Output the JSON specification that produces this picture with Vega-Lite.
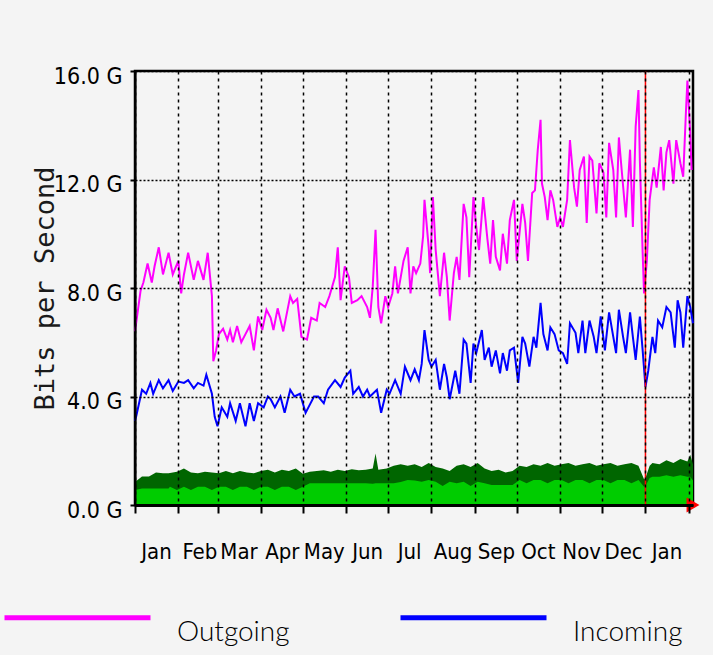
{
  "$schema": "https://vega.github.io/schema/vega-lite/v6.json",
  "width": 558,
  "height": 434,
  "autosize": {"type": "none"},
  "padding": {"left": 135, "top": 71, "right": 20, "bottom": 150},
  "background": "#f4f4f4",
  "config": {
    "view": {"stroke": "#000000", "strokeWidth": 2.5, "fill": "#f4f4f4"}
  },
  "datasets": {
    "traffic": [
      {"date":"2007-01-01","series":"Outgoing","gbps":6.4},{"date":"2007-01-05","series":"Outgoing","gbps":7.9},{"date":"2007-01-07","series":"Outgoing","gbps":8.2},{"date":"2007-01-10","series":"Outgoing","gbps":8.9},{"date":"2007-01-13","series":"Outgoing","gbps":8.2},{"date":"2007-01-15","series":"Outgoing","gbps":8.8},{"date":"2007-01-18","series":"Outgoing","gbps":9.5},{"date":"2007-01-21","series":"Outgoing","gbps":8.5},{"date":"2007-01-25","series":"Outgoing","gbps":9.3},{"date":"2007-01-28","series":"Outgoing","gbps":8.5},
      {"date":"2007-02-01","series":"Outgoing","gbps":9.0},{"date":"2007-02-03","series":"Outgoing","gbps":7.8},{"date":"2007-02-05","series":"Outgoing","gbps":8.5},{"date":"2007-02-08","series":"Outgoing","gbps":9.3},{"date":"2007-02-12","series":"Outgoing","gbps":8.3},{"date":"2007-02-15","series":"Outgoing","gbps":9.0},{"date":"2007-02-19","series":"Outgoing","gbps":8.3},{"date":"2007-02-22","series":"Outgoing","gbps":9.3},{"date":"2007-02-25","series":"Outgoing","gbps":7.7},{"date":"2007-02-26","series":"Outgoing","gbps":5.3},{"date":"2007-02-28","series":"Outgoing","gbps":5.7},
      {"date":"2007-03-02","series":"Outgoing","gbps":6.3},{"date":"2007-03-05","series":"Outgoing","gbps":6.5},{"date":"2007-03-08","series":"Outgoing","gbps":6.1},{"date":"2007-03-10","series":"Outgoing","gbps":6.45},{"date":"2007-03-12","series":"Outgoing","gbps":6.0},{"date":"2007-03-15","series":"Outgoing","gbps":6.6},{"date":"2007-03-18","series":"Outgoing","gbps":6.0},{"date":"2007-03-21","series":"Outgoing","gbps":6.3},{"date":"2007-03-24","series":"Outgoing","gbps":6.6},{"date":"2007-03-27","series":"Outgoing","gbps":5.7},{"date":"2007-03-30","series":"Outgoing","gbps":6.95},
      {"date":"2007-04-02","series":"Outgoing","gbps":6.45},{"date":"2007-04-05","series":"Outgoing","gbps":7.2},{"date":"2007-04-08","series":"Outgoing","gbps":6.9},{"date":"2007-04-10","series":"Outgoing","gbps":6.45},{"date":"2007-04-13","series":"Outgoing","gbps":7.25},{"date":"2007-04-17","series":"Outgoing","gbps":6.4},{"date":"2007-04-22","series":"Outgoing","gbps":7.7},{"date":"2007-04-24","series":"Outgoing","gbps":7.45},{"date":"2007-04-27","series":"Outgoing","gbps":7.6},{"date":"2007-04-30","series":"Outgoing","gbps":6.2},
      {"date":"2007-05-04","series":"Outgoing","gbps":6.1},{"date":"2007-05-07","series":"Outgoing","gbps":6.9},{"date":"2007-05-11","series":"Outgoing","gbps":6.8},{"date":"2007-05-13","series":"Outgoing","gbps":7.45},{"date":"2007-05-17","series":"Outgoing","gbps":7.3},{"date":"2007-05-20","series":"Outgoing","gbps":7.7},{"date":"2007-05-24","series":"Outgoing","gbps":8.4},{"date":"2007-05-26","series":"Outgoing","gbps":9.5},{"date":"2007-05-28","series":"Outgoing","gbps":7.55},{"date":"2007-05-31","series":"Outgoing","gbps":8.8},
      {"date":"2007-06-03","series":"Outgoing","gbps":8.4},{"date":"2007-06-05","series":"Outgoing","gbps":7.45},{"date":"2007-06-09","series":"Outgoing","gbps":7.55},{"date":"2007-06-12","series":"Outgoing","gbps":7.7},{"date":"2007-06-16","series":"Outgoing","gbps":7.3},{"date":"2007-06-18","series":"Outgoing","gbps":6.9},{"date":"2007-06-20","series":"Outgoing","gbps":8.05},{"date":"2007-06-22","series":"Outgoing","gbps":10.15},{"date":"2007-06-24","series":"Outgoing","gbps":7.3},{"date":"2007-06-26","series":"Outgoing","gbps":6.7},{"date":"2007-06-29","series":"Outgoing","gbps":7.7},
      {"date":"2007-07-01","series":"Outgoing","gbps":7.3},{"date":"2007-07-04","series":"Outgoing","gbps":7.8},{"date":"2007-07-06","series":"Outgoing","gbps":8.8},{"date":"2007-07-08","series":"Outgoing","gbps":7.8},{"date":"2007-07-12","series":"Outgoing","gbps":9.0},{"date":"2007-07-15","series":"Outgoing","gbps":9.5},{"date":"2007-07-17","series":"Outgoing","gbps":7.8},{"date":"2007-07-19","series":"Outgoing","gbps":8.8},{"date":"2007-07-21","series":"Outgoing","gbps":8.55},{"date":"2007-07-24","series":"Outgoing","gbps":8.9},{"date":"2007-07-26","series":"Outgoing","gbps":9.9},{"date":"2007-07-27","series":"Outgoing","gbps":11.25},{"date":"2007-07-30","series":"Outgoing","gbps":9.5},{"date":"2007-07-31","series":"Outgoing","gbps":8.55},
      {"date":"2007-08-02","series":"Outgoing","gbps":11.35},{"date":"2007-08-04","series":"Outgoing","gbps":9.4},{"date":"2007-08-07","series":"Outgoing","gbps":7.7},{"date":"2007-08-10","series":"Outgoing","gbps":9.3},{"date":"2007-08-12","series":"Outgoing","gbps":8.4},{"date":"2007-08-14","series":"Outgoing","gbps":6.8},{"date":"2007-08-17","series":"Outgoing","gbps":8.55},{"date":"2007-08-19","series":"Outgoing","gbps":9.15},{"date":"2007-08-21","series":"Outgoing","gbps":8.3},{"date":"2007-08-24","series":"Outgoing","gbps":11.1},{"date":"2007-08-26","series":"Outgoing","gbps":10.6},{"date":"2007-08-28","series":"Outgoing","gbps":8.4},{"date":"2007-08-31","series":"Outgoing","gbps":11.35},
      {"date":"2007-09-02","series":"Outgoing","gbps":10.25},{"date":"2007-09-04","series":"Outgoing","gbps":9.4},{"date":"2007-09-07","series":"Outgoing","gbps":11.35},{"date":"2007-09-10","series":"Outgoing","gbps":9.8},{"date":"2007-09-12","series":"Outgoing","gbps":8.9},{"date":"2007-09-14","series":"Outgoing","gbps":10.5},{"date":"2007-09-16","series":"Outgoing","gbps":9.15},{"date":"2007-09-19","series":"Outgoing","gbps":8.65},{"date":"2007-09-21","series":"Outgoing","gbps":10.0},{"date":"2007-09-24","series":"Outgoing","gbps":8.9},{"date":"2007-09-26","series":"Outgoing","gbps":10.5},{"date":"2007-09-29","series":"Outgoing","gbps":11.25},
      {"date":"2007-10-01","series":"Outgoing","gbps":9.0},{"date":"2007-10-05","series":"Outgoing","gbps":11.1},{"date":"2007-10-07","series":"Outgoing","gbps":10.4},{"date":"2007-10-09","series":"Outgoing","gbps":9.0},{"date":"2007-10-12","series":"Outgoing","gbps":11.5},{"date":"2007-10-14","series":"Outgoing","gbps":11.6},{"date":"2007-10-16","series":"Outgoing","gbps":13.1},{"date":"2007-10-18","series":"Outgoing","gbps":14.2},{"date":"2007-10-19","series":"Outgoing","gbps":11.85},{"date":"2007-10-21","series":"Outgoing","gbps":11.35},{"date":"2007-10-23","series":"Outgoing","gbps":10.5},{"date":"2007-10-25","series":"Outgoing","gbps":11.6},{"date":"2007-10-27","series":"Outgoing","gbps":11.25},{"date":"2007-10-30","series":"Outgoing","gbps":10.25},
      {"date":"2007-11-01","series":"Outgoing","gbps":10.6},{"date":"2007-11-03","series":"Outgoing","gbps":10.25},{"date":"2007-11-06","series":"Outgoing","gbps":11.25},{"date":"2007-11-08","series":"Outgoing","gbps":13.45},{"date":"2007-11-11","series":"Outgoing","gbps":11.7},{"date":"2007-11-13","series":"Outgoing","gbps":11.0},{"date":"2007-11-15","series":"Outgoing","gbps":12.35},{"date":"2007-11-18","series":"Outgoing","gbps":12.85},{"date":"2007-11-20","series":"Outgoing","gbps":10.4},{"date":"2007-11-22","series":"Outgoing","gbps":12.85},{"date":"2007-11-24","series":"Outgoing","gbps":12.7},{"date":"2007-11-27","series":"Outgoing","gbps":10.75},{"date":"2007-11-29","series":"Outgoing","gbps":12.6},
      {"date":"2007-12-02","series":"Outgoing","gbps":12.25},{"date":"2007-12-04","series":"Outgoing","gbps":10.6},{"date":"2007-12-06","series":"Outgoing","gbps":13.35},{"date":"2007-12-09","series":"Outgoing","gbps":12.35},{"date":"2007-12-11","series":"Outgoing","gbps":10.6},{"date":"2007-12-13","series":"Outgoing","gbps":13.55},{"date":"2007-12-15","series":"Outgoing","gbps":12.35},{"date":"2007-12-18","series":"Outgoing","gbps":10.6},{"date":"2007-12-21","series":"Outgoing","gbps":13.1},{"date":"2007-12-23","series":"Outgoing","gbps":10.25},{"date":"2007-12-25","series":"Outgoing","gbps":13.95},{"date":"2007-12-27","series":"Outgoing","gbps":15.3},{"date":"2007-12-28","series":"Outgoing","gbps":12.7},{"date":"2007-12-30","series":"Outgoing","gbps":9.3},{"date":"2007-12-31","series":"Outgoing","gbps":7.8},
      {"date":"2008-01-02","series":"Outgoing","gbps":9.0},{"date":"2008-01-04","series":"Outgoing","gbps":11.25},{"date":"2008-01-07","series":"Outgoing","gbps":12.45},{"date":"2008-01-09","series":"Outgoing","gbps":11.7},{"date":"2008-01-12","series":"Outgoing","gbps":13.2},{"date":"2008-01-14","series":"Outgoing","gbps":11.6},{"date":"2008-01-16","series":"Outgoing","gbps":13.0},{"date":"2008-01-18","series":"Outgoing","gbps":13.45},{"date":"2008-01-21","series":"Outgoing","gbps":11.85},{"date":"2008-01-23","series":"Outgoing","gbps":13.45},{"date":"2008-01-26","series":"Outgoing","gbps":12.6},{"date":"2008-01-28","series":"Outgoing","gbps":12.1},{"date":"2008-01-30","series":"Outgoing","gbps":14.55},{"date":"2008-01-31","series":"Outgoing","gbps":15.65},{"date":"2008-02-02","series":"Outgoing","gbps":13.7},{"date":"2008-02-03","series":"Outgoing","gbps":12.35},

      {"date":"2007-01-01","series":"Incoming","gbps":3.1},{"date":"2007-01-02","series":"Incoming","gbps":3.3},{"date":"2007-01-06","series":"Incoming","gbps":4.25},{"date":"2007-01-09","series":"Incoming","gbps":4.1},{"date":"2007-01-12","series":"Incoming","gbps":4.5},{"date":"2007-01-14","series":"Incoming","gbps":4.1},{"date":"2007-01-18","series":"Incoming","gbps":4.6},{"date":"2007-01-21","series":"Incoming","gbps":4.3},{"date":"2007-01-25","series":"Incoming","gbps":4.6},{"date":"2007-01-28","series":"Incoming","gbps":4.2},
      {"date":"2007-02-01","series":"Incoming","gbps":4.55},{"date":"2007-02-05","series":"Incoming","gbps":4.5},{"date":"2007-02-08","series":"Incoming","gbps":4.6},{"date":"2007-02-12","series":"Incoming","gbps":4.3},{"date":"2007-02-15","series":"Incoming","gbps":4.5},{"date":"2007-02-19","series":"Incoming","gbps":4.4},{"date":"2007-02-21","series":"Incoming","gbps":4.8},{"date":"2007-02-25","series":"Incoming","gbps":4.1},{"date":"2007-02-27","series":"Incoming","gbps":3.25},
      {"date":"2007-03-01","series":"Incoming","gbps":2.9},{"date":"2007-03-04","series":"Incoming","gbps":3.6},{"date":"2007-03-08","series":"Incoming","gbps":3.25},{"date":"2007-03-10","series":"Incoming","gbps":3.75},{"date":"2007-03-14","series":"Incoming","gbps":3.1},{"date":"2007-03-17","series":"Incoming","gbps":3.75},{"date":"2007-03-21","series":"Incoming","gbps":2.9},{"date":"2007-03-24","series":"Incoming","gbps":3.75},{"date":"2007-03-27","series":"Incoming","gbps":3.1},{"date":"2007-03-30","series":"Incoming","gbps":3.75},
      {"date":"2007-04-03","series":"Incoming","gbps":3.6},{"date":"2007-04-06","series":"Incoming","gbps":4.0},{"date":"2007-04-08","series":"Incoming","gbps":3.9},{"date":"2007-04-11","series":"Incoming","gbps":3.6},{"date":"2007-04-15","series":"Incoming","gbps":4.0},{"date":"2007-04-18","series":"Incoming","gbps":3.4},{"date":"2007-04-22","series":"Incoming","gbps":4.25},{"date":"2007-04-25","series":"Incoming","gbps":4.0},{"date":"2007-04-29","series":"Incoming","gbps":4.1},
      {"date":"2007-05-03","series":"Incoming","gbps":3.4},{"date":"2007-05-05","series":"Incoming","gbps":3.6},{"date":"2007-05-09","series":"Incoming","gbps":4.0},{"date":"2007-05-12","series":"Incoming","gbps":4.0},{"date":"2007-05-16","series":"Incoming","gbps":3.75},{"date":"2007-05-19","series":"Incoming","gbps":4.25},{"date":"2007-05-24","series":"Incoming","gbps":4.6},{"date":"2007-05-28","series":"Incoming","gbps":4.35},{"date":"2007-05-31","series":"Incoming","gbps":4.7},
      {"date":"2007-06-04","series":"Incoming","gbps":4.95},{"date":"2007-06-06","series":"Incoming","gbps":4.1},{"date":"2007-06-10","series":"Incoming","gbps":4.35},{"date":"2007-06-13","series":"Incoming","gbps":4.0},{"date":"2007-06-16","series":"Incoming","gbps":4.25},{"date":"2007-06-18","series":"Incoming","gbps":4.0},{"date":"2007-06-23","series":"Incoming","gbps":4.25},{"date":"2007-06-26","series":"Incoming","gbps":3.4},{"date":"2007-06-30","series":"Incoming","gbps":4.25},
      {"date":"2007-07-02","series":"Incoming","gbps":4.1},{"date":"2007-07-06","series":"Incoming","gbps":4.6},{"date":"2007-07-10","series":"Incoming","gbps":4.1},{"date":"2007-07-13","series":"Incoming","gbps":5.1},{"date":"2007-07-17","series":"Incoming","gbps":4.6},{"date":"2007-07-20","series":"Incoming","gbps":5.0},{"date":"2007-07-23","series":"Incoming","gbps":4.6},{"date":"2007-07-25","series":"Incoming","gbps":5.2},{"date":"2007-07-27","series":"Incoming","gbps":6.45},{"date":"2007-07-30","series":"Incoming","gbps":5.35},
      {"date":"2007-08-01","series":"Incoming","gbps":5.1},{"date":"2007-08-04","series":"Incoming","gbps":5.35},{"date":"2007-08-07","series":"Incoming","gbps":4.25},{"date":"2007-08-10","series":"Incoming","gbps":5.2},{"date":"2007-08-12","series":"Incoming","gbps":4.7},{"date":"2007-08-14","series":"Incoming","gbps":3.9},{"date":"2007-08-18","series":"Incoming","gbps":4.95},{"date":"2007-08-21","series":"Incoming","gbps":4.1},{"date":"2007-08-24","series":"Incoming","gbps":6.1},{"date":"2007-08-26","series":"Incoming","gbps":5.95},{"date":"2007-08-29","series":"Incoming","gbps":4.5},{"date":"2007-08-31","series":"Incoming","gbps":5.95},
      {"date":"2007-09-02","series":"Incoming","gbps":5.6},{"date":"2007-09-06","series":"Incoming","gbps":6.45},{"date":"2007-09-08","series":"Incoming","gbps":5.35},{"date":"2007-09-11","series":"Incoming","gbps":5.8},{"date":"2007-09-13","series":"Incoming","gbps":5.1},{"date":"2007-09-16","series":"Incoming","gbps":5.7},{"date":"2007-09-19","series":"Incoming","gbps":4.85},{"date":"2007-09-21","series":"Incoming","gbps":5.6},{"date":"2007-09-24","series":"Incoming","gbps":4.95},{"date":"2007-09-26","series":"Incoming","gbps":5.7},{"date":"2007-09-29","series":"Incoming","gbps":5.8},
      {"date":"2007-10-02","series":"Incoming","gbps":4.5},{"date":"2007-10-05","series":"Incoming","gbps":6.2},{"date":"2007-10-07","series":"Incoming","gbps":5.95},{"date":"2007-10-10","series":"Incoming","gbps":5.1},{"date":"2007-10-13","series":"Incoming","gbps":6.2},{"date":"2007-10-15","series":"Incoming","gbps":5.8},{"date":"2007-10-18","series":"Incoming","gbps":7.45},{"date":"2007-10-20","series":"Incoming","gbps":6.3},{"date":"2007-10-23","series":"Incoming","gbps":5.7},{"date":"2007-10-25","series":"Incoming","gbps":6.55},{"date":"2007-10-28","series":"Incoming","gbps":6.3},{"date":"2007-10-31","series":"Incoming","gbps":5.7},
      {"date":"2007-11-03","series":"Incoming","gbps":5.6},{"date":"2007-11-06","series":"Incoming","gbps":5.2},{"date":"2007-11-08","series":"Incoming","gbps":6.7},{"date":"2007-11-12","series":"Incoming","gbps":6.35},{"date":"2007-11-14","series":"Incoming","gbps":5.6},{"date":"2007-11-17","series":"Incoming","gbps":6.8},{"date":"2007-11-19","series":"Incoming","gbps":5.6},{"date":"2007-11-22","series":"Incoming","gbps":6.8},{"date":"2007-11-25","series":"Incoming","gbps":6.2},{"date":"2007-11-27","series":"Incoming","gbps":5.6},{"date":"2007-11-30","series":"Incoming","gbps":6.95},
      {"date":"2007-12-03","series":"Incoming","gbps":5.7},{"date":"2007-12-06","series":"Incoming","gbps":7.1},{"date":"2007-12-09","series":"Incoming","gbps":6.2},{"date":"2007-12-11","series":"Incoming","gbps":5.6},{"date":"2007-12-13","series":"Incoming","gbps":7.2},{"date":"2007-12-16","series":"Incoming","gbps":6.2},{"date":"2007-12-18","series":"Incoming","gbps":5.6},{"date":"2007-12-21","series":"Incoming","gbps":7.1},{"date":"2007-12-23","series":"Incoming","gbps":6.2},{"date":"2007-12-25","series":"Incoming","gbps":5.35},{"date":"2007-12-28","series":"Incoming","gbps":6.95},{"date":"2007-12-30","series":"Incoming","gbps":5.7},
      {"date":"2008-01-01","series":"Incoming","gbps":4.35},{"date":"2008-01-03","series":"Incoming","gbps":4.95},{"date":"2008-01-06","series":"Incoming","gbps":6.2},{"date":"2008-01-08","series":"Incoming","gbps":5.6},{"date":"2008-01-10","series":"Incoming","gbps":6.8},{"date":"2008-01-13","series":"Incoming","gbps":6.55},{"date":"2008-01-16","series":"Incoming","gbps":7.3},{"date":"2008-01-19","series":"Incoming","gbps":7.1},{"date":"2008-01-22","series":"Incoming","gbps":5.8},{"date":"2008-01-24","series":"Incoming","gbps":7.55},{"date":"2008-01-26","series":"Incoming","gbps":7.1},{"date":"2008-01-28","series":"Incoming","gbps":5.8},{"date":"2008-01-31","series":"Incoming","gbps":7.7},{"date":"2008-02-02","series":"Incoming","gbps":7.3},{"date":"2008-02-04","series":"Incoming","gbps":6.7}
    ],
    "peak": [
      {"date":"2007-01-01","gbps":0.85},{"date":"2007-01-06","gbps":1.05},{"date":"2007-01-11","gbps":1.05},{"date":"2007-01-16","gbps":1.2},{"date":"2007-01-21","gbps":1.17},{"date":"2007-01-25","gbps":1.17},{"date":"2007-01-31","gbps":1.23},
      {"date":"2007-02-05","gbps":1.35},{"date":"2007-02-10","gbps":1.2},{"date":"2007-02-15","gbps":1.17},{"date":"2007-02-20","gbps":1.23},{"date":"2007-02-25","gbps":1.2},
      {"date":"2007-03-02","gbps":1.17},{"date":"2007-03-07","gbps":1.25},{"date":"2007-03-12","gbps":1.17},{"date":"2007-03-17","gbps":1.25},{"date":"2007-03-22","gbps":1.2},{"date":"2007-03-27","gbps":1.17},
      {"date":"2007-04-01","gbps":1.25},{"date":"2007-04-06","gbps":1.3},{"date":"2007-04-11","gbps":1.2},{"date":"2007-04-16","gbps":1.3},{"date":"2007-04-21","gbps":1.25},{"date":"2007-04-26","gbps":1.35},
      {"date":"2007-05-01","gbps":1.15},{"date":"2007-05-06","gbps":1.23},{"date":"2007-05-11","gbps":1.25},{"date":"2007-05-16","gbps":1.28},{"date":"2007-05-21","gbps":1.23},{"date":"2007-05-26","gbps":1.3},{"date":"2007-05-31","gbps":1.25},
      {"date":"2007-06-05","gbps":1.32},{"date":"2007-06-10","gbps":1.28},{"date":"2007-06-15","gbps":1.3},{"date":"2007-06-20","gbps":1.35},{"date":"2007-06-22","gbps":1.9},{"date":"2007-06-24","gbps":1.3},{"date":"2007-06-30","gbps":1.35},
      {"date":"2007-07-05","gbps":1.45},{"date":"2007-07-10","gbps":1.5},{"date":"2007-07-15","gbps":1.45},{"date":"2007-07-20","gbps":1.5},{"date":"2007-07-25","gbps":1.4},{"date":"2007-07-30","gbps":1.55},
      {"date":"2007-08-04","gbps":1.4},{"date":"2007-08-09","gbps":1.35},{"date":"2007-08-14","gbps":1.25},{"date":"2007-08-19","gbps":1.45},{"date":"2007-08-24","gbps":1.5},{"date":"2007-08-29","gbps":1.4},
      {"date":"2007-09-03","gbps":1.55},{"date":"2007-09-08","gbps":1.35},{"date":"2007-09-13","gbps":1.25},{"date":"2007-09-18","gbps":1.3},{"date":"2007-09-23","gbps":1.2},{"date":"2007-09-28","gbps":1.25},
      {"date":"2007-10-03","gbps":1.45},{"date":"2007-10-08","gbps":1.4},{"date":"2007-10-13","gbps":1.5},{"date":"2007-10-18","gbps":1.45},{"date":"2007-10-23","gbps":1.55},{"date":"2007-10-28","gbps":1.45},
      {"date":"2007-11-02","gbps":1.5},{"date":"2007-11-07","gbps":1.55},{"date":"2007-11-12","gbps":1.45},{"date":"2007-11-17","gbps":1.5},{"date":"2007-11-22","gbps":1.55},{"date":"2007-11-27","gbps":1.45},
      {"date":"2007-12-02","gbps":1.5},{"date":"2007-12-07","gbps":1.55},{"date":"2007-12-12","gbps":1.45},{"date":"2007-12-17","gbps":1.5},{"date":"2007-12-22","gbps":1.55},{"date":"2007-12-27","gbps":1.45},{"date":"2007-12-31","gbps":0.95},
      {"date":"2008-01-01","gbps":1.0},{"date":"2008-01-04","gbps":1.45},{"date":"2008-01-06","gbps":1.55},{"date":"2008-01-11","gbps":1.5},{"date":"2008-01-16","gbps":1.65},{"date":"2008-01-21","gbps":1.55},{"date":"2008-01-26","gbps":1.7},{"date":"2008-01-31","gbps":1.6},{"date":"2008-02-02","gbps":1.85},{"date":"2008-02-04","gbps":1.5}
    ],
    "average": [
      {"date":"2007-01-01","gbps":0.55},{"date":"2007-01-06","gbps":0.61},{"date":"2007-01-11","gbps":0.61},{"date":"2007-01-16","gbps":0.61},{"date":"2007-01-21","gbps":0.61},{"date":"2007-01-25","gbps":0.61},{"date":"2007-01-26","gbps":0.67},{"date":"2007-01-31","gbps":0.55},
      {"date":"2007-02-05","gbps":0.67},{"date":"2007-02-10","gbps":0.55},{"date":"2007-02-15","gbps":0.67},{"date":"2007-02-20","gbps":0.67},{"date":"2007-02-25","gbps":0.55},
      {"date":"2007-03-02","gbps":0.67},{"date":"2007-03-07","gbps":0.67},{"date":"2007-03-12","gbps":0.55},{"date":"2007-03-17","gbps":0.67},{"date":"2007-03-22","gbps":0.67},{"date":"2007-03-27","gbps":0.55},
      {"date":"2007-04-01","gbps":0.67},{"date":"2007-04-06","gbps":0.67},{"date":"2007-04-11","gbps":0.55},{"date":"2007-04-16","gbps":0.67},{"date":"2007-04-21","gbps":0.67},{"date":"2007-04-26","gbps":0.55},
      {"date":"2007-05-01","gbps":0.67},{"date":"2007-05-06","gbps":0.8},{"date":"2007-05-11","gbps":0.8},{"date":"2007-05-16","gbps":0.8},{"date":"2007-05-21","gbps":0.8},{"date":"2007-05-26","gbps":0.8},{"date":"2007-05-31","gbps":0.8},
      {"date":"2007-06-05","gbps":0.8},{"date":"2007-06-10","gbps":0.8},{"date":"2007-06-15","gbps":0.8},{"date":"2007-06-20","gbps":0.78},{"date":"2007-06-22","gbps":0.8},{"date":"2007-06-24","gbps":0.8},{"date":"2007-06-30","gbps":0.8},
      {"date":"2007-07-05","gbps":0.8},{"date":"2007-07-10","gbps":0.85},{"date":"2007-07-15","gbps":0.92},{"date":"2007-07-20","gbps":0.9},{"date":"2007-07-25","gbps":0.86},{"date":"2007-07-30","gbps":0.92},
      {"date":"2007-08-04","gbps":0.86},{"date":"2007-08-09","gbps":0.7},{"date":"2007-08-14","gbps":0.86},{"date":"2007-08-19","gbps":0.8},{"date":"2007-08-24","gbps":0.86},{"date":"2007-08-29","gbps":0.7},
      {"date":"2007-09-03","gbps":0.86},{"date":"2007-09-08","gbps":0.8},{"date":"2007-09-13","gbps":0.74},{"date":"2007-09-18","gbps":0.74},{"date":"2007-09-23","gbps":0.74},{"date":"2007-09-28","gbps":0.74},
      {"date":"2007-10-03","gbps":0.92},{"date":"2007-10-08","gbps":0.8},{"date":"2007-10-13","gbps":0.92},{"date":"2007-10-18","gbps":0.92},{"date":"2007-10-23","gbps":0.8},{"date":"2007-10-28","gbps":0.92},
      {"date":"2007-11-02","gbps":0.92},{"date":"2007-11-07","gbps":0.8},{"date":"2007-11-12","gbps":0.92},{"date":"2007-11-17","gbps":0.92},{"date":"2007-11-22","gbps":0.8},{"date":"2007-11-27","gbps":0.92},
      {"date":"2007-12-02","gbps":0.92},{"date":"2007-12-07","gbps":0.8},{"date":"2007-12-12","gbps":0.92},{"date":"2007-12-17","gbps":0.92},{"date":"2007-12-22","gbps":0.8},{"date":"2007-12-27","gbps":0.92},{"date":"2007-12-31","gbps":0.67},
      {"date":"2008-01-01","gbps":0.7},{"date":"2008-01-04","gbps":1.0},{"date":"2008-01-06","gbps":1.04},{"date":"2008-01-11","gbps":1.04},{"date":"2008-01-16","gbps":1.1},{"date":"2008-01-21","gbps":1.04},{"date":"2008-01-26","gbps":1.1},{"date":"2008-01-31","gbps":1.04},{"date":"2008-02-02","gbps":1.04},{"date":"2008-02-04","gbps":0.9}
    ],
    "yearmark": [{"date":"2008-01-01"}],
    "now": [{"date":"2008-02-04","gbps":0}]
  },
  "encoding": {
    "x": {
      "field": "date",
      "type": "temporal",
      "scale": {"type": "utc", "domain": [{"year":2007,"month":1,"date":1,"utc":true},{"year":2008,"month":2,"date":4,"utc":true}]},
      "axis": {
        "title": null,
        "values": [
          {"year":2007,"month":1,"date":1,"utc":true},{"year":2007,"month":2,"date":1,"utc":true},{"year":2007,"month":3,"date":1,"utc":true},{"year":2007,"month":4,"date":1,"utc":true},{"year":2007,"month":5,"date":1,"utc":true},{"year":2007,"month":6,"date":1,"utc":true},{"year":2007,"month":7,"date":1,"utc":true},{"year":2007,"month":8,"date":1,"utc":true},{"year":2007,"month":9,"date":1,"utc":true},{"year":2007,"month":10,"date":1,"utc":true},{"year":2007,"month":11,"date":1,"utc":true},{"year":2007,"month":12,"date":1,"utc":true},{"year":2008,"month":1,"date":1,"utc":true},{"year":2008,"month":2,"date":1,"utc":true}
        ],
        "labelExpr": "datum.index >= 1 ? '' : utcFormat(datum.value, '%b')",
        "labelOffset": 21,
        "labelFlush": false,
        "labelOverlap": false,
        "labelFont": "Liberation Sans Narrow, DejaVu Sans Condensed, sans-serif",
        "labelFontSize": 22,
        "labelColor": "#000000",
        "labelPadding": 28,
        "grid": true,
        "gridColor": "#000000",
        "gridDash": [3, 4],
        "gridWidth": 1.5,
        "gridOpacity": 1,
        "domainColor": "#000000",
        "domainWidth": 3,
        "tickColor": "#000000",
        "tickSize": 8,
        "tickWidth": 2,
        "zindex": 1
      }
    }
  },
  "layer": [
    {
      "encoding": {
        "y": {
          "field": "gbps",
          "type": "quantitative",
          "scale": {"domain": [0, 16], "nice": false},
          "axis": {
            "title": "Bits per Second",
            "values": [0, 4, 8, 12, 16],
            "labelExpr": "format(datum.value, '.1f') + ' G'",
            "labelFont": "Liberation Sans Narrow, DejaVu Sans Condensed, sans-serif",
            "labelFontSize": 23,
            "labelColor": "#000000",
            "labelPadding": 8,
            "labelOffset": 5,
            "grid": true,
            "gridColor": "#000000",
            "gridDash": [2, 2],
            "gridWidth": 1.5,
            "gridOpacity": 1,
            "domainColor": "#000000",
            "domainWidth": 2,
            "tickColor": "#000000",
            "tickSize": 5,
            "tickWidth": 2,
            "titleFont": "DejaVu Sans Mono",
            "titleFontSize": 27,
            "titleFontWeight": "normal",
            "titleColor": "#1a1a1a",
            "titlePadding": -6,
            "zindex": 1
          }
        }
      },
      "layer": [
        {
          "data": {"name": "peak"},
          "mark": {"type": "area", "color": "#006600"}
        },
        {
          "data": {"name": "average"},
          "mark": {"type": "area", "color": "#00cc00"}
        },
        {
          "data": {"name": "traffic"},
          "mark": {"type": "line", "strokeWidth": 2},
          "encoding": {
            "color": {
              "field": "series",
              "type": "nominal",
              "scale": {"domain": ["Outgoing", "Incoming"], "range": ["#ff00ff", "#0000ff"]},
              "legend": {
                "orient": "none",
                "legendX": -133,
                "legendY": 471,
                "direction": "horizontal",
                "title": null,
                "symbolType": "stroke",
                "symbolSize": 21316,
                "symbolStrokeWidth": 5,
                "labelFont": "Lato",
                "labelFontSize": 28,
                "labelFontWeight": 300,
                "labelColor": "#000000",
                "labelOffset": 24,
                "columnPadding": 100,
                "labelBaseline": "line-top",
                "labelLineHeight": 83
              }
            }
          }
        },
        {
          "data": {"name": "now"},
          "mark": {"type": "point", "shape": "triangle-right", "filled": true, "color": "#ff0000", "size": 220, "opacity": 1}
        }
      ]
    },
    {
      "data": {"name": "yearmark"},
      "mark": {"type": "rule", "color": "#ff0000", "strokeWidth": 1.5},
      "encoding": {}
    }
  ]
}
